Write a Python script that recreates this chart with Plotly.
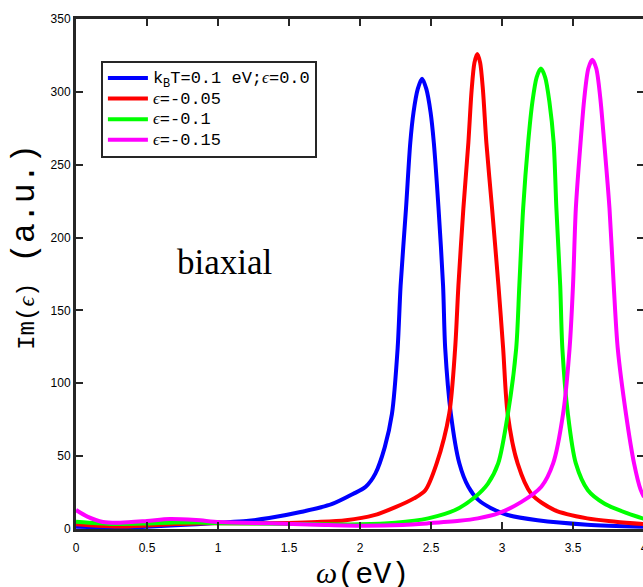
import plotly.graph_objects as go

# Im(eps) spectra for the biaxial strain series
blue_x = [0, 0.15, 0.3, 0.5, 0.7, 0.85, 1.0, 1.2, 1.36, 1.59, 1.8, 1.95, 2.04, 2.108, 2.174,
          2.225, 2.265, 2.286, 2.324, 2.354, 2.377, 2.407, 2.437, 2.467, 2.497, 2.52, 2.553,
          2.585, 2.60, 2.64, 2.70, 2.763, 2.833, 2.95, 3.04, 3.25, 3.6, 4.0]
blue_y = [1.6, 1.2, 1.0, 1.6, 2.5, 3.3, 4.3, 5.5, 7.5, 11.8, 17, 24, 29, 38, 56,
          79, 124, 167, 220, 265, 286, 302, 309, 302, 286, 265, 220,
          167, 124, 79, 45, 29, 20, 13, 9.6, 6, 3, 1.6]

red_x = [0, 0.15, 0.3, 0.5, 0.7, 0.85, 1.0, 1.25, 1.5, 1.7, 1.9, 2.1, 2.25, 2.38, 2.46,
         2.54, 2.628, 2.67, 2.693, 2.728, 2.763, 2.786, 2.806, 2.826, 2.846, 2.866, 2.89,
         2.93, 2.975, 3.008, 3.04, 3.11, 3.207, 3.37, 3.6, 3.8, 4.0]
red_y = [3.2, 2.2, 1.7, 2.4, 3.4, 3.8, 4.0, 4.0, 4.2, 4.8, 6, 9.5, 15, 21, 26.6,
         45, 79, 124, 167, 220, 265, 301, 320, 326, 320, 301, 265,
         220, 167, 124, 79, 45, 24, 13, 7.3, 5, 3.3]

green_x = [0, 0.15, 0.3, 0.5, 0.7, 0.85, 1.0, 1.5, 2.0, 2.25, 2.48, 2.67, 2.81, 2.90, 2.973,
           3.043, 3.10, 3.122, 3.149, 3.184, 3.214, 3.244, 3.274, 3.304, 3.334, 3.364, 3.383,
           3.41, 3.425, 3.464, 3.52, 3.605, 3.72, 3.885, 4.0]
green_y = [5, 4.0, 3.4, 3.8, 4.5, 4.4, 4.0, 3.5, 3.2, 4.3, 7.3, 13, 22, 31, 45,
           80, 124, 167, 220, 265, 293, 310, 316, 310, 293, 265, 220,
           167, 124, 79, 45, 26.6, 17.5, 10.7, 7]

magenta_x = [0, 0.08, 0.19, 0.31, 0.5, 0.66, 0.846, 1.01, 1.36, 1.7, 2.01, 2.3, 2.48, 2.7,
             2.83, 2.973, 3.137, 3.277, 3.36, 3.43, 3.476, 3.50, 3.52, 3.553, 3.58, 3.608,
             3.636, 3.664, 3.692, 3.72, 3.757, 3.787, 3.815, 3.873, 3.93, 3.976, 4.0]
magenta_y = [13, 8.5, 4.8, 4.3, 5.5, 6.8, 6.1, 4.8, 3.9, 3.0, 2.3, 2.8, 3.9, 5.6,
             7.3, 10.7, 18.6, 29, 45, 79, 124, 167, 220, 265, 296, 316,
             322, 316, 296, 265, 220, 167, 124, 79, 45, 27, 22]

EPS = "<span style='font-family:Liberation Serif'><i>ϵ</i></span>"


def legend_label(s):
    return "<span style='font-size:17px'>" + s + "</span>"


series_names = [
    legend_label("k<sub>B</sub>T=0.1 eV;" + EPS + "=0.0"),
    legend_label(EPS + "=-0.05"),
    legend_label(EPS + "=-0.1"),
    legend_label(EPS + "=-0.15"),
]
series_colors = ["#0000FF", "#FF0000", "#00FF00", "#FF00FF"]
series = [(blue_x, blue_y), (red_x, red_y), (green_x, green_y), (magenta_x, magenta_y)]

x_ticks = [0, 0.5, 1, 1.5, 2, 2.5, 3, 3.5, 4]
x_tick_text = ["0", "0.5", "1", "1.5", "2", "2.5", "3", "3.5", "4"]
y_ticks = [0, 50, 100, 150, 200, 250, 300, 350]

AX = "#262626"
MONO = "Liberation Mono, Courier New, monospace"

fig = go.Figure()
for (xs, ys), name, color in zip(series, series_names, series_colors):
    fig.add_trace(go.Scatter(
        x=xs, y=ys, mode="lines", name=name,
        line=dict(color=color, width=4, shape="spline", smoothing=0.8),
    ))

axis_common = dict(
    showgrid=False, zeroline=False, showline=True, linecolor=AX, linewidth=3,
    mirror="ticks", ticks="inside", ticklen=7, tickwidth=2, tickcolor=AX,
    tickfont=dict(family="Liberation Sans, Arial", size=12, color="#000000"),
)

fig.update_xaxes(range=[0, 4], tickvals=x_ticks, ticktext=x_tick_text,
                 ticklabelstandoff=6, **axis_common)
fig.update_yaxes(range=[0, 350], tickvals=y_ticks, **axis_common)

W, H = 660, 587
L, R, T, B = 76, 14, 16, 58
pw, ph = W - L - R, H - T - B


def px_to_paper(px, py):
    return (px - L) / pw, (H - B - py) / ph


yx, yy = px_to_paper(25, 245)
xx, xy = px_to_paper(364, 574)
lx, ly = px_to_paper(101, 58)

y_title = ("<span style='font-size:24px'>Im(" + EPS + ")</span>"
           "<span style='font-size:33px'> (a.u.)</span>")
x_title = ("<span style='font-family:Liberation Serif'><i>ω</i></span>(eV)")

fig.update_layout(
    width=W, height=H,
    margin=dict(l=L, r=R, t=T, b=B),
    paper_bgcolor="white", plot_bgcolor="white",
    showlegend=True,
    legend=dict(
        x=lx, y=ly, xanchor="left", yanchor="top",
        bgcolor="white", bordercolor=AX, borderwidth=2,
        font=dict(family=MONO, size=13.5, color="#000000"),
        tracegroupgap=0, itemwidth=40,
    ),
    annotations=[
        dict(text=y_title, xref="paper", yref="paper", x=yx, y=yy, textangle=-90,
             showarrow=False, xanchor="center", yanchor="middle",
             font=dict(family=MONO, size=26, color="#000000")),
        dict(text=x_title, xref="paper", yref="paper", x=xx, y=xy,
             showarrow=False, xanchor="center", yanchor="middle",
             font=dict(family=MONO, size=30, color="#000000")),
        dict(text="biaxial", xref="x", yref="y", x=1.046, y=183,
             showarrow=False, xanchor="center", yanchor="middle",
             font=dict(family="Liberation Serif, Times New Roman, serif", size=35, color="#000000")),
    ],
)

fig.write_html(
    "out.html",
    post_script="document.body.style.margin='0';document.body.style.overflow='hidden';"
                "document.documentElement.style.overflow='hidden';",
)
